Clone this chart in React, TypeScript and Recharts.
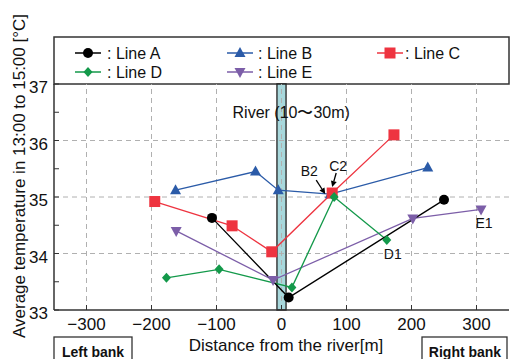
import { LineChart, Line, XAxis, YAxis, ReferenceLine, ReferenceArea, ReferenceDot, Customized } from "recharts";

// x ticks (m) and y ticks (°C)
const xTicks = [-300, -200, -100, 0, 100, 200, 300];
const yTicks = [33, 33.5, 34, 34.5, 35, 35.5, 36, 36.5, 37];
const yGrid = [34, 35, 36];

// measured points, distance [m] / temperature [°C]
const lineAX = [-107, 11, 250];
const lineAY = [34.63, 33.22, 34.95];
const lineBX = [-163, -40, -5, 75, 225];
const lineBY = [35.12, 35.45, 35.12, 35.05, 35.52];
const lineCX = [-195, -76, -15, 78, 173];
const lineCY = [34.92, 34.49, 34.03, 35.07, 36.1];
const lineDX = [-177, -96, 16, 81, 162];
const lineDY = [33.57, 33.72, 33.4, 35.0, 34.24];
const lineEX = [-162, -13, 202, 307];
const lineEY = [34.4, 33.53, 34.62, 34.78];

const riverFrom = -7;
const riverTo = 7;

const toData = (xs: number[], ys: number[]) => xs.map((x, i) => ({ x, y: ys[i] }));

const BLACK = "#000000";
const BLUE = "#2b5ba8";
const RED = "#ee3440";
const GREEN = "#13994a";
const PURPLE = "#7c5ea8";
const FRAME = "#333333";

const circle = (p: any) => <circle key={p.index} cx={p.cx} cy={p.cy} r={5} fill={BLACK} />;
const triUp = (p: any) => (
    <polygon key={p.index} points={`${p.cx},${p.cy - 6} ${p.cx - 5.5},${p.cy + 4} ${p.cx + 5.5},${p.cy + 4}`} fill={BLUE} />
);
const square = (p: any) => <rect key={p.index} x={p.cx - 5.5} y={p.cy - 5.5} width={11} height={11} fill={RED} />;
const diamond = (p: any) => (
    <polygon key={p.index} points={`${p.cx},${p.cy - 5} ${p.cx + 4.5},${p.cy} ${p.cx},${p.cy + 5} ${p.cx - 4.5},${p.cy}`} fill={GREEN} />
);
const triDown = (p: any) => (
    <polygon key={p.index} points={`${p.cx},${p.cy + 6} ${p.cx - 5.5},${p.cy - 4} ${p.cx + 5.5},${p.cy - 4}`} fill={PURPLE} />
);

// arrow from (x1,y1) to (x2,y2) with small head
const Arrow = ({ x1, y1, x2, y2 }: any) => {
    const a = Math.atan2(y2 - y1, x2 - x1);
    const l = 6, w = 3;
    const bx = x2 - l * Math.cos(a), by = y2 - l * Math.sin(a);
    const px = -Math.sin(a) * w, py = Math.cos(a) * w;
    return (
        <g>
            <line x1={x1} y1={y1} x2={bx} y2={by} stroke="#000" strokeWidth={1.3} />
            <polygon points={`${x2},${y2} ${bx + px},${by + py} ${bx - px},${by - py}`} fill="#000" />
        </g>
    );
};

const LegendIcon = ({ x, y, color, shape }: any) => (
    <g>
        <line x1={x} y1={y} x2={x + 26} y2={y} stroke={color} strokeWidth={1.5} />
        {shape({ cx: x + 13, cy: y, index: 0 })}
    </g>
);

const Decor = () => (
    <g>
        {/* legend box above the plot */}
        <rect x={54} y={37} width={455} height={47} fill="none" stroke={FRAME} strokeWidth={1.5} />
        <LegendIcon x={75} y={53} color={BLACK} shape={circle} />
        <text x={107} y={59} fontSize={16} fill="#111">: Line A</text>
        <LegendIcon x={227} y={53} color={BLUE} shape={triUp} />
        <text x={258} y={59} fontSize={16} fill="#111">: Line B</text>
        <LegendIcon x={377} y={53} color={RED} shape={square} />
        <text x={405} y={59} fontSize={16} fill="#111">: Line C</text>
        <LegendIcon x={75} y={72} color={GREEN} shape={diamond} />
        <text x={107} y={78} fontSize={16} fill="#111">: Line D</text>
        <LegendIcon x={227} y={72} color={PURPLE} shape={triDown} />
        <text x={258} y={78} fontSize={16} fill="#111">: Line E</text>

        <text x={19} y={176} fontSize={17} fill="#111" textAnchor="middle" dominantBaseline="central" transform="rotate(-90 19 176)">
            Average temperature in 13:00 to 15:00 [°C]
        </text>
        <text x={286} y={351} fontSize={17} fill="#111" textAnchor="middle">Distance from the river[m]</text>

        <rect x={54} y={337} width={78} height={26} fill="#fff" stroke={FRAME} strokeWidth={1.3} />
        <text x={93} y={357} fontSize={14} fontWeight="bold" fill="#111" textAnchor="middle">Left bank</text>
        <rect x={422} y={337} width={85} height={26} fill="#fff" stroke={FRAME} strokeWidth={1.3} />
        <text x={465} y={357} fontSize={14} fontWeight="bold" fill="#111" textAnchor="middle">Right bank</text>
    </g>
);

const fmtX = (v: number) => (v < 0 ? "\u2212" + Math.abs(v) : String(v));
const fmtY = (v: number) => (Number.isInteger(v) ? String(v) : "");

export default function App() {
    return (
        <div style={{ position: "absolute", left: 0, top: 0, fontFamily: "'Liberation Sans', Arial, sans-serif" }}>
            <LineChart width={510} height={359} margin={{ top: 84, right: 1, bottom: 0, left: 0 }}>
                <XAxis
                    dataKey="x"
                    type="number"
                    domain={[-350, 350]}
                    ticks={xTicks}
                    allowDataOverflow
                    height={49}
                    tickSize={-5}
                    tickMargin={13}
                    tickFormatter={fmtX}
                    tick={{ fontSize: 17, fill: "#111" }}
                    axisLine={{ stroke: FRAME, strokeWidth: 1.5 }}
                    tickLine={{ stroke: FRAME }}
                />
                <XAxis
                    xAxisId="top"
                    orientation="top"
                    type="number"
                    domain={[-350, 350]}
                    ticks={xTicks}
                    allowDataOverflow
                    height={0}
                    tickSize={-5}
                    tick={false}
                    axisLine={{ stroke: FRAME, strokeWidth: 1.5 }}
                    tickLine={{ stroke: FRAME }}
                />
                <YAxis
                    type="number"
                    domain={[33, 37]}
                    ticks={yTicks}
                    allowDataOverflow
                    width={54}
                    tickSize={-5}
                    tickMargin={11}
                    tickFormatter={fmtY}
                    tick={{ fontSize: 17, fill: "#111", dy: 3 }}
                    axisLine={{ stroke: FRAME, strokeWidth: 1.5 }}
                    tickLine={{ stroke: FRAME }}
                />
                <YAxis
                    yAxisId="right"
                    orientation="right"
                    type="number"
                    domain={[33, 37]}
                    ticks={yTicks}
                    allowDataOverflow
                    width={0}
                    tickSize={-5}
                    tick={false}
                    axisLine={{ stroke: FRAME, strokeWidth: 1.5 }}
                    tickLine={{ stroke: FRAME }}
                />

                {xTicks.map((v) => (
                    <ReferenceLine key={"gx" + v} x={v} stroke="#b0b0b0" strokeDasharray="5 4" />
                ))}
                {yGrid.map((v) => (
                    <ReferenceLine key={"gy" + v} y={v} stroke="#b0b0b0" strokeDasharray="5 4" />
                ))}

                <ReferenceArea x1={riverFrom} x2={riverTo} y1={33} y2={37} fill="#a8d8dc" fillOpacity={1} stroke="#222" strokeWidth={1.3} />
                <ReferenceDot
                    x={15}
                    y={36.5}
                    shape={(p: any) => (
                        <text x={p.cx} y={p.cy} fontSize={16} fill="#111" textAnchor="middle" dominantBaseline="central">
                            River (10〜30m)
                        </text>
                    )}
                />

                <Line data={toData(lineBX, lineBY)} dataKey="y" stroke={BLUE} strokeWidth={1.3} dot={triUp} isAnimationActive={false} />
                <Line data={toData(lineEX, lineEY)} dataKey="y" stroke={PURPLE} strokeWidth={1.3} dot={triDown} isAnimationActive={false} />
                <Line data={toData(lineCX, lineCY)} dataKey="y" stroke={RED} strokeWidth={1.3} dot={square} isAnimationActive={false} />
                <Line data={toData(lineDX, lineDY)} dataKey="y" stroke={GREEN} strokeWidth={1.3} dot={diamond} isAnimationActive={false} />
                <Line data={toData(lineAX, lineAY)} dataKey="y" stroke={BLACK} strokeWidth={1.3} dot={circle} isAnimationActive={false} />

                {/* point labels */}
                <ReferenceDot
                    x={lineCX[3]}
                    y={lineCY[3]}
                    shape={(p: any) => (
                        <g>
                            <text x={p.cx - 23} y={p.cy - 17} fontSize={14} fill="#111" textAnchor="middle">B2</text>
                            <Arrow x1={p.cx - 16} y1={p.cy - 13} x2={p.cx - 7} y2={p.cy + 1} />
                            <text x={p.cx + 6} y={p.cy - 22} fontSize={14} fill="#111" textAnchor="middle">C2</text>
                            <Arrow x1={p.cx + 4} y1={p.cy - 20} x2={p.cx} y2={p.cy - 6} />
                        </g>
                    )}
                />
                <ReferenceDot
                    x={lineDX[4]}
                    y={lineDY[4]}
                    shape={(p: any) => (
                        <text x={p.cx + 6} y={p.cy + 19} fontSize={14} fill="#111" textAnchor="middle">D1</text>
                    )}
                />
                <ReferenceDot
                    x={lineEX[3]}
                    y={lineEY[3]}
                    shape={(p: any) => (
                        <text x={p.cx + 3} y={p.cy + 19} fontSize={14} fill="#111" textAnchor="middle">E1</text>
                    )}
                />

                <Customized component={<Decor />} />
            </LineChart>
        </div>
    );
}
